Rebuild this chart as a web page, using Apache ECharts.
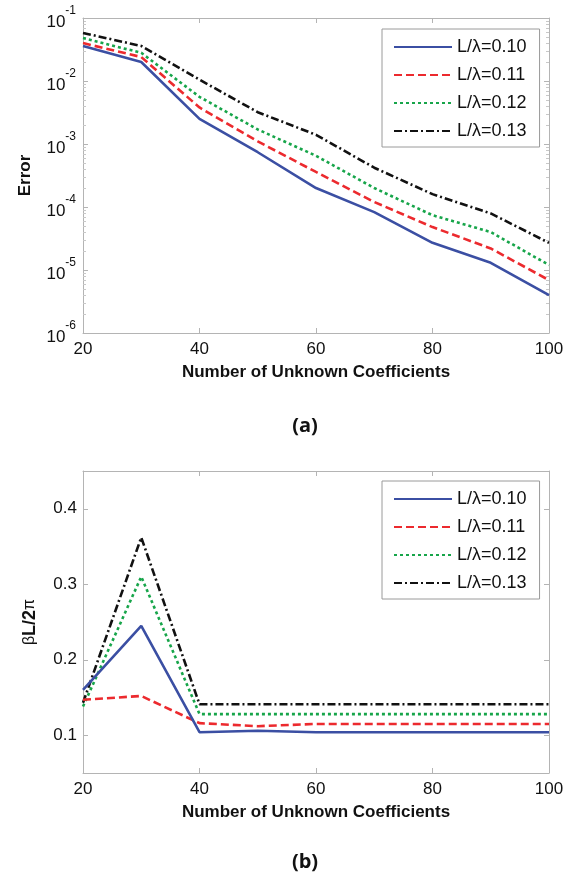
<!DOCTYPE html>
<html>
<head>
<meta charset="utf-8">
<script src="https://cdn.jsdelivr.net/npm/echarts@6/dist/echarts.min.js"></script>
<style>
html,body{margin:0;padding:0;background:#fff;}
#chart{width:576px;height:879px;}
</style>
</head>
<body>
<div id="chart"></div>
<script>
// ---- data ----
const xValues = [20, 30, 40, 50, 60, 70, 80, 90, 100];
const seriesNames = ['L/λ=0.10', 'L/λ=0.11', 'L/λ=0.12', 'L/λ=0.13'];

const errBlue  = [0.036, 0.020, 0.0025, 7.4e-4, 2.0e-4, 8.3e-5, 2.7e-5, 1.3e-5, 4.0e-6];
const errRed   = [0.040, 0.024, 0.0038, 1.1e-3, 3.6e-4, 1.2e-4, 4.8e-5, 2.2e-5, 6.9e-6];
const errGreen = [0.048, 0.028, 0.0056, 1.7e-3, 6.5e-4, 2.0e-4, 7.4e-5, 4.0e-5, 1.2e-5];
const errBlack = [0.058, 0.036, 0.0105, 3.2e-3, 1.4e-3, 4.2e-4, 1.6e-4, 7.9e-5, 2.7e-5];

const betaBlue  = [0.160, 0.245, 0.104, 0.106, 0.104, 0.104, 0.104, 0.104, 0.104];
const betaRed   = [0.147, 0.152, 0.116, 0.112, 0.115, 0.115, 0.115, 0.115, 0.115];
const betaGreen = [0.138, 0.310, 0.128, 0.128, 0.128, 0.128, 0.128, 0.128, 0.128];
const betaBlack = [0.143, 0.362, 0.141, 0.141, 0.141, 0.141, 0.141, 0.141, 0.141];

const xTicks = [20, 40, 60, 80, 100];
const betaTicks = [0.1, 0.2, 0.3, 0.4];

// ---- styles ----
const colors = ['#3b4fa3', '#ec2a2e', '#17a54a', '#111111'];
const dashes = ['solid', [8, 4], [3, 3], [8, 3, 2, 3]];
const FONT = '"Liberation Sans", Arial, sans-serif';
const AXC = '#b4b4b4';

// minor log ticks in log10 space
const minorLog = [];
for (let e = -6; e < -1; e++) for (let k = 2; k <= 9; k++) minorLog.push(e + Math.log10(k));

function pairs(ys) { return xValues.map((x, i) => [x, ys[i]]); }

const chart = echarts.init(document.getElementById('chart'), null, {renderer: 'canvas'});

const grids = [
  {left: 83, top: 18, width: 466, height: 315},
  {left: 83, top: 471, width: 466, height: 302}
];

function xAx(gi, pos, showLabels, name) {
  return {
    type: 'value', gridIndex: gi, position: pos, min: 20, max: 100, interval: 20,
    axisLine: {show: true, lineStyle: {color: AXC, width: 1}},
    axisTick: {show: true, inside: true, length: 5, lineStyle: {color: AXC}},
    axisLabel: {show: showLabels, color: '#111', fontFamily: FONT, fontSize: 17, margin: 8},
    splitLine: {show: false},
    name: name || '', nameLocation: 'middle', nameGap: 31,
    nameTextStyle: {color: '#111', fontFamily: FONT, fontSize: 17, fontWeight: 'bold'}
  };
}

const supFmt = v => '{b|10}{s|' + Math.round(Math.log10(v)) + '}';

const legendBase = {
  data: seriesNames, left: 382, top: 29, orient: 'vertical',
  itemWidth: 58, itemHeight: 14, itemGap: 10,
  padding: [9, 13, 7, 11], borderColor: '#9a9a9a', borderWidth: 1,
  backgroundColor: '#fff',
  itemStyle: {opacity: 0},
  textStyle: {color: '#111', fontFamily: FONT, fontSize: 18, lineHeight: 14}
};

const option = {
  animation: false,
  backgroundColor: '#fff',
  grid: grids,
  legend: [
    Object.assign({}, legendBase, {top: 29, seriesIndex: [0, 1, 2, 3]}),
    Object.assign({}, legendBase, {top: 481, seriesIndex: [4, 5, 6, 7]})
  ],
  xAxis: [
    xAx(0, 'bottom', true, 'Number of Unknown Coefficients'),
    xAx(0, 'top', false),
    xAx(1, 'bottom', true, 'Number of Unknown Coefficients'),
    xAx(1, 'top', false)
  ],
  yAxis: [
    {
      type: 'log', logBase: 10, gridIndex: 0, position: 'left', min: 1e-6, max: 1e-1,
      axisLine: {show: true, lineStyle: {color: AXC}},
      axisTick: {show: true, inside: true, length: 5, lineStyle: {color: AXC}},
      axisLabel: {
        color: '#111', fontFamily: FONT, margin: 7, formatter: supFmt,
        rich: {
          b: {fontSize: 17, fontFamily: FONT, color: '#111', lineHeight: 26, verticalAlign: 'bottom'},
          s: {fontSize: 12, fontFamily: FONT, color: '#111', lineHeight: 12, verticalAlign: 'top'}
        }
      },
      splitLine: {show: false},
      name: 'Error', nameLocation: 'middle', nameGap: 49,
      nameTextStyle: {color: '#111', fontFamily: FONT, fontSize: 17, fontWeight: 'bold'}
    },
    {
      type: 'log', logBase: 10, gridIndex: 0, position: 'right', min: 1e-6, max: 1e-1,
      axisLine: {show: true, lineStyle: {color: AXC}},
      axisTick: {show: true, inside: true, length: 5, lineStyle: {color: AXC}},
      axisLabel: {show: false}, splitLine: {show: false}
    },
    {
      type: 'value', gridIndex: 0, position: 'left', min: -6, max: -1,
      axisLine: {show: false},
      axisTick: {show: true, inside: true, length: 3, customValues: minorLog, lineStyle: {color: '#c8c8c8'}},
      axisLabel: {show: false}, splitLine: {show: false}
    },
    {
      type: 'value', gridIndex: 0, position: 'right', min: -6, max: -1,
      axisLine: {show: false},
      axisTick: {show: true, inside: true, length: 3, customValues: minorLog, lineStyle: {color: '#c8c8c8'}},
      axisLabel: {show: false}, splitLine: {show: false}
    },
    {
      type: 'value', gridIndex: 1, position: 'left', min: 0.05, max: 0.45,
      axisLine: {show: true, lineStyle: {color: AXC}},
      axisTick: {show: true, inside: true, length: 5, customValues: betaTicks, lineStyle: {color: AXC}},
      axisLabel: {color: '#111', fontFamily: FONT, fontSize: 17, margin: 6, customValues: betaTicks,
        formatter: v => v.toFixed(1)},
      splitLine: {show: false},
      name: '{g|β}L/2{g|π}', nameLocation: 'middle', nameGap: 44,
      nameTextStyle: {color: '#111', fontFamily: FONT, fontSize: 18, fontWeight: 'bold',
        rich: {g: {fontFamily: FONT, fontSize: 16, fontWeight: 'normal', color: '#111'}}}
    },
    {
      type: 'value', gridIndex: 1, position: 'right', min: 0.05, max: 0.45,
      axisLine: {show: true, lineStyle: {color: AXC}},
      axisTick: {show: true, inside: true, length: 5, customValues: betaTicks, lineStyle: {color: AXC}},
      axisLabel: {show: false}, splitLine: {show: false}
    }
  ],
  graphic: [
    {type: 'text', x: 305, y: 426, style: {text: '(a)', fill: '#111', font: 'bold 20px "Open Sans", sans-serif', textAlign: 'center', textVerticalAlign: 'middle'}},
    {type: 'text', x: 305, y: 862, style: {text: '(b)', fill: '#111', font: 'bold 20px "Open Sans", sans-serif', textAlign: 'center', textVerticalAlign: 'middle'}}
  ],
  series: []
};

const errSets = [errBlue, errRed, errGreen, errBlack];
const betaSets = [betaBlue, betaRed, betaGreen, betaBlack];
errSets.forEach((d, i) => option.series.push({
  name: seriesNames[i], type: 'line', xAxisIndex: 0, yAxisIndex: 0, data: pairs(d),
  symbol: 'none', lineStyle: {color: colors[i], width: 2.6, type: dashes[i]}, itemStyle: {color: colors[i]}, z: 10 - i
}));
betaSets.forEach((d, i) => option.series.push({
  name: seriesNames[i], type: 'line', xAxisIndex: 2, yAxisIndex: 4, data: pairs(d),
  symbol: 'none', lineStyle: {color: colors[i], width: 2.6, type: dashes[i]}, itemStyle: {color: colors[i]}, z: 10 - i
}));

chart.setOption(option);
</script>
</body>
</html>
